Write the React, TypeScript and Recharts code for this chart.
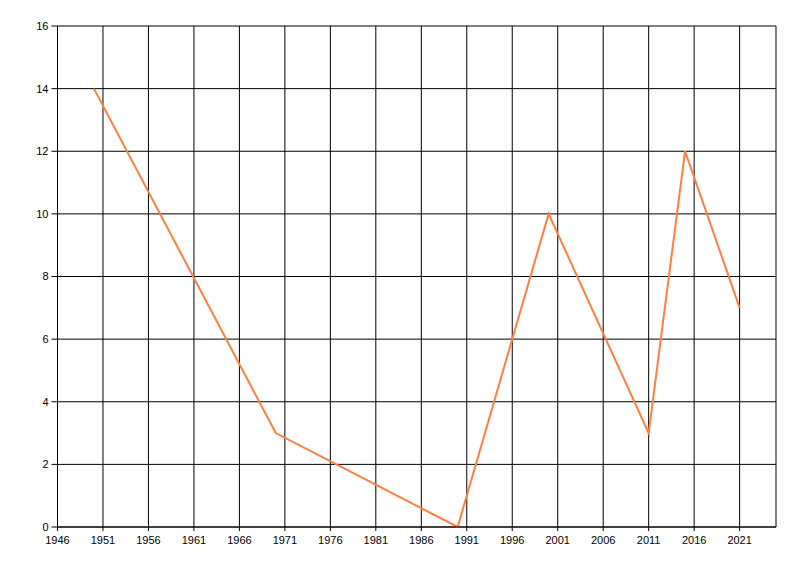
import React from 'react'
import { LineChart, Line, XAxis, YAxis, CartesianGrid } from 'recharts'

// Values
const years = [1950, 1970, 1990, 2000, 2011, 2015, 2021]
const values = [14, 3, 0, 10, 3, 12, 7]

const xTicks = [1946, 1951, 1956, 1961, 1966, 1971, 1976, 1981, 1986, 1991, 1996, 2001, 2006, 2011, 2016, 2021]
const yTicks = [0, 2, 4, 6, 8, 10, 12, 14, 16]

const data = years.map((year, i) => ({ year, value: values[i] }))

const FONT = '"Liberation Sans", Arial, sans-serif'

export default function App() {
  return (
    <div style={{ position: 'absolute', left: 0, top: 0, width: 800, height: 576, background: '#fff', fontFamily: FONT }}>
      <LineChart
        width={800}
        height={576}
        data={data}
        margin={{ top: 26, right: 24, bottom: 19, left: 0 }}
      >
        <CartesianGrid stroke="#000" strokeWidth={1} strokeOpacity={1} />
        <XAxis
          dataKey="year"
          type="number"
          domain={[1946, 2025]}
          ticks={xTicks}
          interval={0}
          height={30}
          stroke="#000"
          tickSize={4}
          tick={{ fontSize: 11, fill: '#000', fontFamily: FONT }}
          tickMargin={5}
        />
        <YAxis
          type="number"
          domain={[0, 16]}
          ticks={yTicks}
          interval={0}
          width={57.5}
          stroke="#000"
          tickSize={6}
          tick={{ fontSize: 11, fill: '#000', fontFamily: FONT }}
          tickMargin={3}
        />
        <Line
          type="linear"
          dataKey="value"
          stroke="#ff7f3f"
          strokeWidth={2}
          dot={false}
          activeDot={false}
          isAnimationActive={false}
        />
      </LineChart>
    </div>
  )
}
